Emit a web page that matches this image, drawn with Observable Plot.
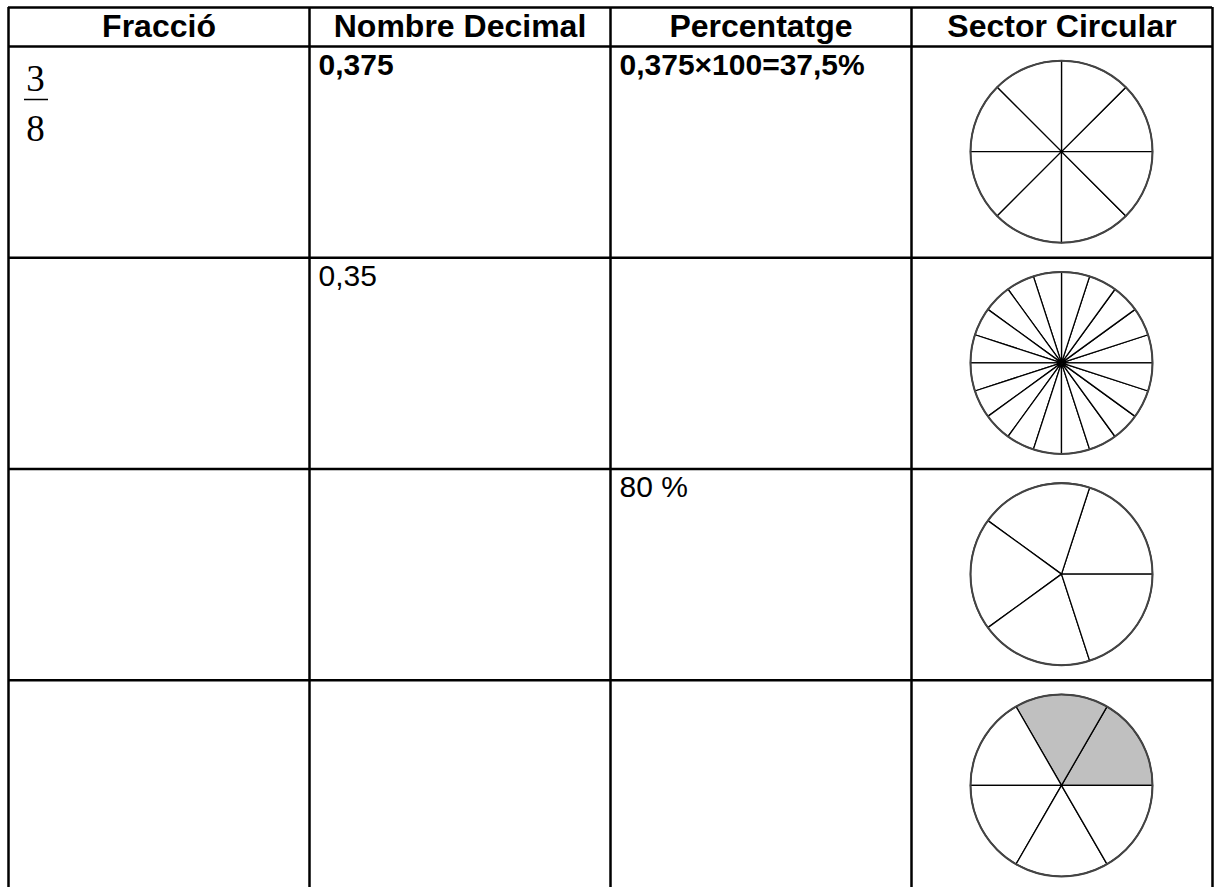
<!DOCTYPE html>
<html>
<head>
<meta charset="utf-8">
<script src="https://cdn.jsdelivr.net/npm/d3@7"></script>
<script src="https://cdn.jsdelivr.net/npm/@observablehq/plot@0.6"></script>
<style>
  html, body { margin: 0; padding: 0; background: #fff; }
  #chart svg { display: block; background: #fff; }
</style>
</head>
<body>
<div id="chart"></div>
<script>
// ---- Data ----
const columns = ["Fracció", "Nombre Decimal", "Percentatge", "Sector Circular"];
const rows = [0, 1, 2, 3];
const fractionNumerators = ["3", "", "", ""];
const fractionDenominators = ["8", "", "", ""];
const decimals = ["0,375", "0,35", "", ""];
const percentages = ["0,375×100=37,5%", "", "80 %", ""];
const sectorParts = [8, 20, 5, 6];
const sectorShaded = [0, 0, 0, 2];
const boldRows = [true, false, false, false];

// ---- Derived tables ----
const cells = rows.flatMap(r => [
  {row: r, col: 1, text: decimals[r], bold: boldRows[r]},
  {row: r, col: 2, text: percentages[r], bold: boldRows[r]}
]).filter(d => d.text);
const boldCells = cells.filter(d => d.bold);
const plainCells = cells.filter(d => !d.bold);
const fractions = rows.filter(r => fractionNumerators[r]).map(r => ({
  row: r, num: fractionNumerators[r], den: fractionDenominators[r]
}));
const pies = rows.map(r => ({row: r, parts: sectorParts[r], shaded: sectorShaded[r]}));

const pieRadius = 91;
const sans = "'Liberation Sans', Arial, sans-serif";
const serif = "'Liberation Serif', 'Times New Roman', serif";

function pieRender(index, scales, values) {
  const g = d3.create("svg:g");
  for (const i of index) {
    const cx = values.x[i], cy = values.y[i], R = pieRadius;
    const d = pies[i];
    const n = d.parts;
    for (let k = 0; k < n; k++) {
      const a0 = (k * 2 * Math.PI) / n, a1 = ((k + 1) * 2 * Math.PI) / n;
      const x0 = cx + R * Math.cos(a0), y0 = cy - R * Math.sin(a0);
      const x1 = cx + R * Math.cos(a1), y1 = cy - R * Math.sin(a1);
      g.append("path")
        .attr("d", `M${cx},${cy}L${x0},${y0}A${R},${R} 0 0 0 ${x1},${y1}Z`)
        .attr("fill", k < d.shaded ? "#c0c0c0" : "#fff")
        .attr("stroke", "#000")
        .attr("stroke-width", 1.3)
        .attr("stroke-linejoin", "round");
    }
    g.append("circle")
      .attr("cx", cx).attr("cy", cy).attr("r", R)
      .attr("fill", "none")
      .attr("stroke", "#444")
      .attr("stroke-width", 2);
  }
  return g.node();
}

const bodyText = (data, weight) => Plot.text(data, {
  x: d => d.col, y: d => d.row + 1, text: "text",
  dx: 9, dy: 7,
  fontSize: 30, fontWeight: weight,
  fontFamily: sans, fill: "#000",
  lineAnchor: "top", textAnchor: "start"
});

const chart = Plot.plot({
  width: 1216,
  height: 887,
  margin: 0,
  x: {type: "linear", domain: [0, 4], range: [8, 1212], axis: null},
  y: {type: "linear", domain: [0, 1, 5], range: [7, 46, 891], axis: null},
  style: {background: "#fff", fontFamily: sans},
  marks: [
    // pies
    Plot.dot(pies, {x: () => 3.5, y: d => d.row + 1.5, r: pieRadius, render: pieRender}),
    // grid lines
    Plot.ruleX(d3.range(columns.length + 1), {y1: 0, y2: 5, stroke: "#000", strokeWidth: 2.5}),
    Plot.ruleY(d3.range(rows.length + 1), {x1: 0, x2: columns.length, stroke: "#000", strokeWidth: 2.5}),
    // header
    Plot.text(columns, {
      x: (d, i) => i + 0.5, y: () => 0.5, text: d => d,
      fontSize: 32, fontWeight: "bold", fontFamily: sans, fill: "#000",
      lineAnchor: "middle", textAnchor: "middle"
    }),
    // body text
    bodyText(boldCells, "bold"),
    bodyText(plainCells, "normal"),
    // fraction numerator / denominator
    Plot.text(fractions, {
      x: () => 0, y: d => d.row + 1, text: "num",
      dx: 27, dy: 18, fontSize: 37, fontFamily: serif, fill: "#000",
      lineAnchor: "top", textAnchor: "middle"
    }),
    Plot.text(fractions, {
      x: () => 0, y: d => d.row + 1, text: "den",
      dx: 27, dy: 68, fontSize: 37, fontFamily: serif, fill: "#000",
      lineAnchor: "top", textAnchor: "middle"
    }),
    Plot.ruleY(fractions, {
      y: d => d.row + 1, x1: () => 16 / 301, x2: () => 40 / 301, dy: 53,
      stroke: "#000", strokeWidth: 1.5
    })
  ]
});
document.getElementById("chart").append(chart);
</script>
</body>
</html>
